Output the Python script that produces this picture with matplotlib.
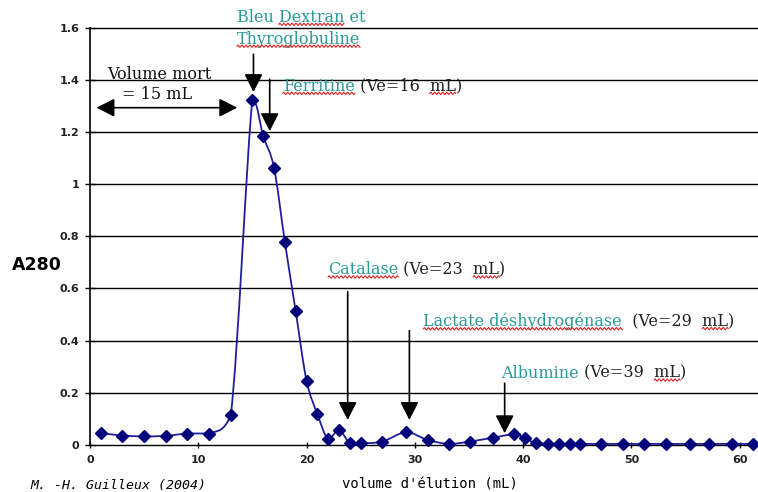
import matplotlib
matplotlib.use("Agg")
import matplotlib.pyplot as plt
from matplotlib.path import Path
from matplotlib.patches import PathPatch
from matplotlib.lines import Line2D
from matplotlib.transforms import IdentityTransform
import numpy as np

# ---- data ----
volume = [1, 3, 5, 7, 9, 11, 13, 15, 16, 17, 18, 19, 20, 21, 22, 23, 24, 25, 27,
          29.2, 31.2, 33.2, 35.1, 37.2, 39.2, 40.2, 41.2, 42.3, 43.3, 44.3, 45.3,
          47.2, 49.2, 51.2, 53.2, 55.4, 57.2, 59.3, 61.2]
a280 = [0.045, 0.035, 0.032, 0.034, 0.043, 0.043, 0.114, 1.323, 1.185, 1.063, 0.778,
        0.512, 0.246, 0.118, 0.021, 0.057, 0.005, 0.005, 0.012,
        0.048, 0.018, 0.003, 0.012, 0.027, 0.040, 0.025, 0.005, 0.003, 0.003, 0.003, 0.003,
        0.003, 0.003, 0.003, 0.003, 0.003, 0.003, 0.003, 0.003]

yticks = [0, 0.2, 0.4, 0.6, 0.8, 1, 1.2, 1.4, 1.6]
ytick_labels = ["0", "0.2", "0.4", "0.6", "0.8", "1", "1.2", "1.4", "1.6"]
xticks = [0, 10, 20, 30, 40, 50, 60]
xtick_labels = ["0", "10", "20", "30", "40", "50", "60"]

# annotations: (name, ve text, text x, text y, arrow x, arrow y start, arrow y end, underline name?)
proteins = [
    ("Ferritine", " (Ve=16  mL)", 17.8, 1.376, 16.6, 1.403, 1.204, True),
    ("Catalase", " (Ve=23  mL)", 22.0, 0.671, 23.8, 0.588, 0.095, True),
    ("Lactate déshydrogénase", "  (Ve=29  mL)", 30.8, 0.473, 29.5, 0.438, 0.095, True),
    ("Albumine", " (Ve=39  mL)", 38.0, 0.275, 38.3, 0.236, 0.044, False),
]

teal = "#2b9a98"
navy = "#00007a"
serif = ["DejaVu Serif"]
fs = 11.5

fig = plt.figure(figsize=(7.58, 4.92), dpi=100)
ax = fig.add_axes([90 / 758, 1 - 444.7 / 492, (758 - 90) / 758, (444.7 - 28) / 492])
ax.set_xlim(0, 61.7)
ax.set_ylim(0, 1.6)

for yv in yticks[1:]:
    ax.axhline(yv, color="black", lw=1.0, clip_on=False, zorder=1)

for s in ["top", "right"]:
    ax.spines[s].set_visible(False)
ax.spines["left"].set_linewidth(1.2)
ax.spines["bottom"].set_linewidth(1.0)

ax.set_yticks(yticks)
ax.set_yticklabels(ytick_labels, fontsize=8, fontweight="bold", color="#222222")
ax.set_xticks(xticks)
ax.set_xticklabels(xtick_labels, fontsize=8, fontweight="bold", color="#222222")
ax.tick_params(axis="y", direction="inout", length=7, width=1, pad=4)
ax.tick_params(axis="x", direction="inout", length=5, width=1, pad=5)

# smoothed line through the points (Catmull-Rom Bezier, control points clamped
# to each segment's value range so the curve does not overshoot)
pts = np.column_stack([volume, a280]).astype(float)
n = len(pts)
verts = [tuple(pts[0])]
codes = [Path.MOVETO]
for i in range(n - 1):
    p0 = pts[i - 1] if i > 0 else pts[i]
    p1 = pts[i]
    p2 = pts[i + 1]
    p3 = pts[i + 2] if i + 2 < n else pts[i + 1]
    c1 = p1 + (p2 - p0) / 6.0
    c2 = p2 - (p3 - p1) / 6.0
    lo, hi = min(p1[1], p2[1]), max(p1[1], p2[1])
    c1[1] = min(max(c1[1], lo), hi)
    c2[1] = min(max(c2[1], lo), hi)
    verts += [tuple(c1), tuple(c2), tuple(p2)]
    codes += [Path.CURVE4] * 3
ax.add_patch(PathPatch(Path(verts, codes), facecolor="none", edgecolor="#1f1f9a",
                       lw=1.3, zorder=3))
ax.plot(volume, a280, linestyle="none", marker="D", markersize=6, color=navy,
        zorder=4, clip_on=False)

arrow_kw = dict(arrowstyle="-|>,head_length=0.55,head_width=0.28", color="black",
                lw=1.2, shrinkA=0, shrinkB=0, mutation_scale=20)

underlines = []  # (text artist, start index, end index)

# Bleu Dextran / Thyroglobuline
t1 = ax.text(13.57, 1.641, "Bleu Dextran et", color=teal, fontsize=fs, family=serif,
             va="center", ha="left", clip_on=False)
t2 = ax.text(13.57, 1.557, "Thyroglobuline", color=teal, fontsize=fs, family=serif,
             va="center", ha="left", clip_on=False)
underlines += [(t1, 5, 12), (t2, 0, 14)]
ax.annotate("", xy=(15.1, 1.354), xytext=(15.1, 1.499), arrowprops=arrow_kw)

for name, ve, tx, ty, axx, ay0, ay1, ul in proteins:
    t = ax.text(tx, ty, name, color=teal, fontsize=fs, family=serif,
                va="center", ha="left")
    tv = ax.annotate(ve, xy=(1, 0.5), xycoords=t, va="center", ha="left",
                     fontsize=fs, family=serif, color="#222222")
    if ul:
        underlines.append((t, 0, len(name)))
    k = ve.index("mL")
    underlines.append((tv, k, k + 2))
    ax.annotate("", xy=(axx, ay1), xytext=(axx, ay0), arrowprops=arrow_kw)

# Volume mort
ax.text(6.4, 1.422, "Volume mort", fontsize=fs, family=serif, ha="center",
        va="center", color="#111111")
ax.text(6.2, 1.345, "= 15 mL", fontsize=fs, family=serif, ha="center",
        va="center", color="#111111")
ax.annotate("", xy=(13.6, 1.294), xytext=(0.6, 1.294),
            arrowprops=dict(arrowstyle="<|-|>,head_length=0.55,head_width=0.28",
                            color="black", lw=1.2, shrinkA=0, shrinkB=0,
                            mutation_scale=20))

fig.text(37 / 758, 1 - 265 / 492, "A280", fontsize=12.5, fontweight="bold",
         ha="center", va="center")
fig.text(430 / 758, 1 - 485 / 492, "volume d'élution (mL)", fontsize=10,
         family="DejaVu Sans Mono", ha="center", va="center")
fig.text(30 / 758, 1 - 485 / 492, "M. -H. Guilleux (2004)", fontsize=9.5,
         family="DejaVu Sans Mono", style="italic", ha="left", va="center")

# red wavy spell-check underlines
fig.canvas.draw()
renderer = fig.canvas.get_renderer()
for t, i0, i1 in underlines:
    bb = t.get_window_extent(renderer)
    fp = t.get_fontproperties()
    s = t.get_text()
    w0 = renderer.get_text_width_height_descent(s[:i0], fp, ismath=False)[0] if i0 > 0 else 0
    w1 = renderer.get_text_width_height_descent(s[:i1], fp, ismath=False)[0]
    xs = np.arange(bb.x0 + w0, bb.x0 + w1 + 0.5, 1.0)
    ys = bb.y0 + 1.5 + 1.2 * np.sin((xs - xs[0]) * np.pi / 2.0)
    fig.add_artist(Line2D(xs, ys, transform=IdentityTransform(), color="#e02020",
                          lw=0.8))

fig.savefig("out.png", dpi=100)
